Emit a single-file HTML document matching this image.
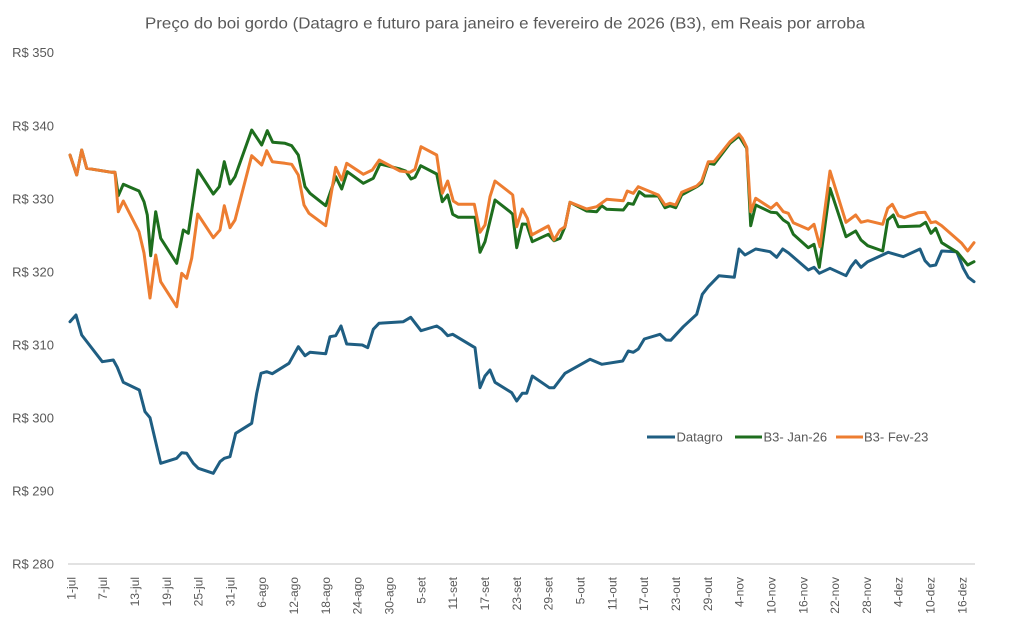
<!DOCTYPE html>
<html>
<head>
<meta charset="utf-8">
<style>
html,body{margin:0;padding:0;background:#fff;}
svg{display:block;}
text{font-family:"Liberation Sans",sans-serif;fill:#595959;}
</style>
</head>
<body>
<svg width="1011" height="629" viewBox="0 0 1011 629" xmlns="http://www.w3.org/2000/svg">
<rect width="1011" height="629" fill="#fff"/>
<text x="145" y="28.5" font-size="16" textLength="720" lengthAdjust="spacingAndGlyphs">Preço do boi gordo (Datagro e futuro para janeiro e fevereiro de 2026 (B3), em Reais por arroba</text>

<g font-size="13" text-anchor="end">
<text x="54" y="57">R$ 350</text>
<text x="54" y="130.5">R$ 340</text>
<text x="54" y="203.5">R$ 330</text>
<text x="54" y="276.5">R$ 320</text>
<text x="54" y="349.5">R$ 310</text>
<text x="54" y="422.5">R$ 300</text>
<text x="54" y="495.5">R$ 290</text>
<text x="54" y="568.5">R$ 280</text>
</g>

<line x1="68" y1="564" x2="975" y2="564" stroke="#d9d9d9" stroke-width="1.5"/>

<g font-size="12" text-anchor="end">
<text transform="translate(75.3,577) rotate(-90)">1-jul</text>
<text transform="translate(107.1,577) rotate(-90)">7-jul</text>
<text transform="translate(138.9,577) rotate(-90)">13-jul</text>
<text transform="translate(170.8,577) rotate(-90)">19-jul</text>
<text transform="translate(202.6,577) rotate(-90)">25-jul</text>
<text transform="translate(234.4,577) rotate(-90)">31-jul</text>
<text transform="translate(266.2,577) rotate(-90)">6-ago</text>
<text transform="translate(298.1,577) rotate(-90)">12-ago</text>
<text transform="translate(329.9,577) rotate(-90)">18-ago</text>
<text transform="translate(361.7,577) rotate(-90)">24-ago</text>
<text transform="translate(393.5,577) rotate(-90)">30-ago</text>
<text transform="translate(425.4,577) rotate(-90)">5-set</text>
<text transform="translate(457.2,577) rotate(-90)">11-set</text>
<text transform="translate(489.0,577) rotate(-90)">17-set</text>
<text transform="translate(520.8,577) rotate(-90)">23-set</text>
<text transform="translate(552.7,577) rotate(-90)">29-set</text>
<text transform="translate(584.5,577) rotate(-90)">5-out</text>
<text transform="translate(616.3,577) rotate(-90)">11-out</text>
<text transform="translate(648.1,577) rotate(-90)">17-out</text>
<text transform="translate(680.0,577) rotate(-90)">23-out</text>
<text transform="translate(711.8,577) rotate(-90)">29-out</text>
<text transform="translate(743.6,577) rotate(-90)">4-nov</text>
<text transform="translate(775.4,577) rotate(-90)">10-nov</text>
<text transform="translate(807.3,577) rotate(-90)">16-nov</text>
<text transform="translate(839.1,577) rotate(-90)">22-nov</text>
<text transform="translate(870.9,577) rotate(-90)">28-nov</text>
<text transform="translate(902.7,577) rotate(-90)">4-dez</text>
<text transform="translate(934.6,577) rotate(-90)">10-dez</text>
<text transform="translate(966.4,577) rotate(-90)">16-dez</text>
</g>

<g fill="none" stroke-width="3" stroke-linejoin="round" stroke-linecap="round">
<polyline stroke="#1f5e82" points="70,321.7 76,315 81.7,335 102.3,361.7 113.3,360 117.3,367.3 123.3,382.3 139.3,390 145,411.7 150,417.7 160.7,463.3 176.7,458.3 181.7,452.7 186.7,453.3 193.3,463.3 198.3,468.3 213.3,473.3 220,461.7 224.3,458.3 230,456.7 235.7,433.3 251.7,423.3 256.7,393.3 261,373.3 266.7,371.7 272.3,373.7 289,363.3 298.3,346.7 305,355.7 310,352.3 325.7,353.7 330,336.7 335.7,335.7 341,326 346.7,344 362.3,345 367.7,347.7 373.3,329.3 379,323.3 403.3,321.7 410.7,317.3 421,330.7 436.7,326 441.7,329.3 447.7,335.7 452.7,334.3 475,347.7 480,387.7 485,376 490,370 495,382.3 511.7,392.7 516.7,401 522.3,393.3 526.7,393.3 532.3,376 549.3,387.7 554,387.7 565,373.3 590,359.3 601.7,364.3 622.7,361 628.3,351 633.3,352.3 638.3,349 644.3,339 660,334.3 666,340 670.7,340.3 683.3,326.7 696.7,314.3 702.3,294.3 708.3,286.7 719,275.7 734.3,277.3 739,249 745,255 755.7,249 770,251.7 776.7,257.3 782.7,249 788.3,252.7 808.3,270 814,267.3 819.3,273.3 830,268.3 846,275.7 851,266.7 855.7,260.7 861,267.3 867.7,261.7 888.3,252.3 903.3,256.7 920,249 925,260.7 930,266 935.7,265 941.7,251 956.7,251.7 963.3,268.3 968.3,277.3 974,281.7"/>
<polyline stroke="#1e6e1e" points="70,155 76.7,175 81.7,150 86.7,168.3 111.7,172.3 115,172.3 118.3,195.7 123.3,184.3 139,191 144,201.7 147.3,215 150.7,255.7 155.7,211.7 160.7,238.3 176.7,263.3 183.3,230 188.3,233.3 197.7,170 213.3,194 219.3,186.7 224.3,161.7 230,184 235,176.7 251.7,130 261.7,145 267.3,130.7 272.7,142.3 285,143.3 291.7,145.7 298.3,155 305,186.7 310,193.3 325.7,205.7 335.7,176.7 341.7,189 347.3,171.7 363.3,183.3 373.3,178.3 380,164 400,169 405.7,171 411,179 415,177.3 420.7,165.7 436.7,174 442.3,201.7 447.7,195 452.7,214.3 458.3,217.3 475,217.3 480,252.3 485,241.7 495,200 510,211.7 512.7,214.3 516.7,247.7 522.3,224 526.7,224.3 532.3,241.7 548.3,234.3 554,240.7 560,238.3 565,226.7 570,202.3 586.7,211 596.7,211.7 601.7,205.7 606.7,209.3 623.3,210 628.3,203.3 633.3,204.3 639.3,191.7 645,196 658.3,196 665,207.7 670,205.7 675.7,207.7 681.7,195 696.7,186.7 701.7,183.3 708.3,163.3 714,164.3 730,143.3 739,136 746.7,148.3 750.7,225.7 755.7,205 771,212.3 776.7,212.7 783.3,220 788.3,223.3 793.3,234.3 808.3,247.7 814,244.3 819.3,267.3 830,188.3 846,236.7 855.7,231 861,240 867.7,245.7 882.7,251 887.7,220 893.3,215 898.3,226.7 920,226 925.7,222.3 931,233.3 935.7,228.3 941.7,242.7 957.7,252.7 967.7,265 974,261.7"/>
<polyline stroke="#ed7d31" points="70,155 76.7,175 81.7,150 86.7,168.3 111.7,172.3 115,172.3 118.3,211.7 123.3,201 139,231.7 144,253 150,298 155.7,255 160.7,281.7 176.7,306.7 181.7,273.3 186.7,278.3 191.7,258.3 197.7,214 213.3,237.7 220,230 224.3,205.7 230,227.7 235,220 251.7,155.7 261.7,165 266.7,150.7 272.3,161.7 285,163.3 291.7,164.3 298.3,175 304,205 309,213.3 325.7,225.7 335.7,167.3 341.7,180 346.7,163.3 363.3,174.3 372.3,170 379.3,160 400,171 410,172.3 415,169.3 421,146.7 436.7,155 442.3,193.3 447.7,181 453.3,201 458.3,204.3 474.3,204.3 480,232.3 485,225 490,196.7 495,181 511.7,194 512.7,195 516.7,226.7 522.3,209 527.3,218.3 531.7,235 548.3,226 554,240 560,230 565,226.7 570,202.3 586.7,209 596.7,206.7 606.7,199.3 623.3,200.7 627.3,191 633.3,193.3 638.3,186.7 658.3,195 665,205 670,203.3 675.7,205 681.7,192.3 696.7,186 701.7,181 708.3,161.7 714,161.7 730,141.7 739,134 742.3,138.3 746.7,147.3 750.7,211.7 755.7,198.3 771,208.3 776.7,203.3 783.3,211.7 788.3,213.3 793.3,222.7 808.3,229.3 814,224.3 820,246.7 830,171 846,222.3 855.7,215 861,222.3 867.7,220.7 882.7,224.3 887.7,208.3 892.3,204.3 898.3,215.7 904.3,217.7 918.3,212.7 925,212.3 931,222.7 935.7,221.7 941.7,225.7 961.7,243.3 967.7,251 974,242.7"/>
</g>

<g stroke-width="3">
<line x1="647" y1="437" x2="675" y2="437" stroke="#1f5e82"/>
<line x1="735" y1="437" x2="762" y2="437" stroke="#1e6e1e"/>
<line x1="836" y1="437" x2="863" y2="437" stroke="#ed7d31"/>
</g>
<g font-size="13">
<text x="676.5" y="441.5">Datagro</text>
<text x="763.5" y="441.5">B3- Jan-26</text>
<text x="864" y="441.5">B3- Fev-23</text>
</g>
</svg>
</body>
</html>
